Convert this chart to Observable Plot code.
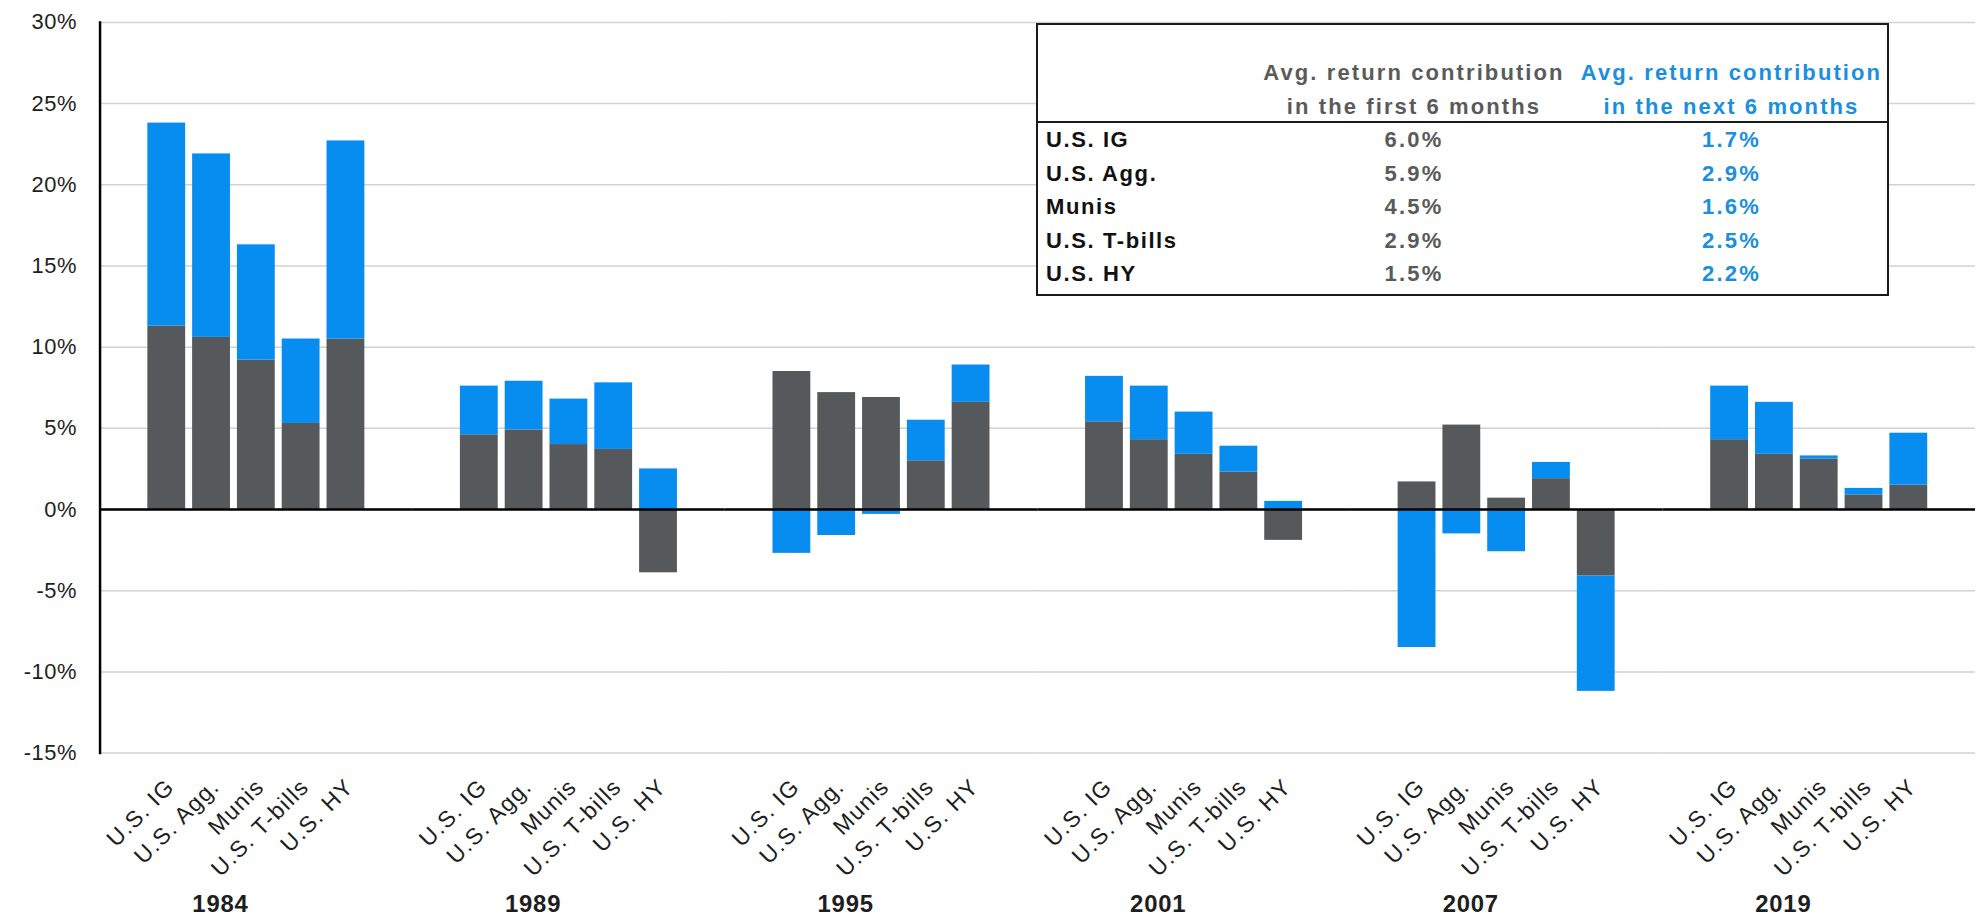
<!DOCTYPE html>
<html>
<head>
<meta charset="utf-8">
<script src="https://cdn.jsdelivr.net/npm/d3@7"></script>
<script src="https://cdn.jsdelivr.net/npm/@observablehq/plot@0.6"></script>
<style>
  html, body { margin: 0; padding: 0; background: #fff; overflow: hidden; }
  #wrap { position: relative; width: 1977px; height: 923px; overflow: hidden; font-family: "Liberation Sans", Arial, sans-serif; }
  #chart { position: absolute; left: 0; top: 0; }
  #inset { position: absolute; left: 1036px; top: 23px; width: 849px; height: 269px; border: 2.5px solid #1a1a1a; background: #fff; }
  #inset table { border-collapse: collapse; width: 100%; table-layout: fixed; }
  #inset th { font-weight: bold; font-size: 22px; line-height: 33.5px; padding: 0; vertical-align: bottom; letter-spacing: 2.1px; }
  #inset th div { position: relative; top: 3px; }
  #inset thead tr { height: 97px; }
  #inset thead th { border-bottom: 2px solid #1a1a1a; padding-bottom: 1px; }
  #inset td { font-size: 22px; font-weight: bold; line-height: 33.6px; height: 33.6px; padding: 0; letter-spacing: 1.6px; }
  #inset td.lab { color: #111; padding-left: 8px; }
  .c1 { color: #5a5a5a; text-align: center; }
  .c2 { color: #1a8fe0; text-align: center; }
  #inset td.c1, #inset td.c2 { letter-spacing: 2.2px; }
</style>
</head>
<body>
<div id="wrap">
  <div id="chart"></div>
  <div id="inset"></div>
</div>
<script>
// ---- data ----
const years = ["1984", "1989", "1995", "2001", "2007", "2019"];
const categories = ["U.S. IG", "U.S. Agg.", "Munis", "U.S. T-bills", "U.S. HY"];

// first 6 months return contribution (%), per year, in category order
const first6_1984 = [11.3, 10.6, 9.2, 5.3, 10.5];
const first6_1989 = [4.6, 4.9, 4.0, 3.7, -3.9];
const first6_1995 = [8.5, 7.2, 6.9, 3.0, 6.6];
const first6_2001 = [5.4, 4.3, 3.4, 2.3, -1.9];
const first6_2007 = [1.7, 5.2, 0.7, 1.9, -4.1];
const first6_2019 = [4.3, 3.4, 3.1, 0.9, 1.5];

// next 6 months return contribution (%), per year, in category order
const next6_1984 = [12.5, 11.3, 7.1, 5.2, 12.2];
const next6_1989 = [3.0, 3.0, 2.8, 4.1, 2.5];
const next6_1995 = [-2.7, -1.6, -0.3, 2.5, 2.3];
const next6_2001 = [2.8, 3.3, 2.6, 1.6, 0.5];
const next6_2007 = [-8.5, -1.5, -2.6, 1.0, -7.1];
const next6_2019 = [3.3, 3.2, 0.2, 0.4, 3.2];

const yTicks = [-15, -10, -5, 0, 5, 10, 15, 20, 25, 30];

// inset table
const tableHeaderFirst = ["Avg. return contribution", "in the first 6 months"];
const tableHeaderNext = ["Avg. return contribution", "in the next 6 months"];
const tableFirst = ["6.0%", "5.9%", "4.5%", "2.9%", "1.5%"];
const tableNext = ["1.7%", "2.9%", "1.6%", "2.5%", "2.2%"];

const seriesNames = ["First 6 months", "Next 6 months"];
const seriesColors = ["#55595b", "#078cf0"];

// ---- build rows ----
const first6 = [first6_1984, first6_1989, first6_1995, first6_2001, first6_2007, first6_2019];
const next6 = [next6_1984, next6_1989, next6_1995, next6_2001, next6_2007, next6_2019];
const rows = [];
years.forEach((yr, i) => categories.forEach((c, j) => rows.push({year: yr, cat: c, series: seriesNames[0], value: first6[i][j]})));
years.forEach((yr, i) => categories.forEach((c, j) => rows.push({year: yr, cat: c, series: seriesNames[1], value: next6[i][j]})));

const chart = Plot.plot({
  width: 1986,
  height: 923,
  marginLeft: 98,
  marginRight: 0,
  marginTop: 22,
  marginBottom: 167,
  style: {fontFamily: "'Liberation Sans', Arial, sans-serif", background: "transparent", color: "#1e1e1e"},
  fx: {domain: years, padding: 0, label: null},
  x: {domain: categories, paddingInner: 0.146, paddingOuter: 1.06, label: null},
  y: {domain: [-15, 30], label: null},
  color: {domain: seriesNames, range: seriesColors},
  marks: [
    Plot.gridY({ticks: yTicks, stroke: "#d2d2d2", strokeOpacity: 1, strokeWidth: 1.5}),
    Plot.barY(rows, {fx: "year", x: "cat", y: "value", fill: "series"}),
    Plot.ruleY([0], {stroke: "#000", strokeWidth: 2.5}),
    Plot.frame({anchor: "left", facet: "super", stroke: "#000", strokeWidth: 2.5}),
    Plot.axisY({ticks: yTicks, tickSize: 0, tickPadding: 23, tickFormat: d => d + "%", fontSize: 22, label: null}),
    Plot.axisX({tickRotate: -45, tickSize: 0, tickPadding: 30, dx: 4, fontSize: 23, label: null}),
    Plot.axisFx({anchor: "bottom", tickSize: 0, tickPadding: 143, dx: -36, fontSize: 24, fontWeight: "bold", label: null})
  ]
});
chart.querySelectorAll('g[aria-label="x-axis tick label"] text').forEach(t => t.setAttribute("letter-spacing", "1.4"));
chart.querySelectorAll('g[aria-label="y-axis tick label"] text').forEach(t => t.setAttribute("letter-spacing", "0.6"));
chart.querySelectorAll('g[aria-label="fx-axis tick label"] text').forEach(t => t.setAttribute("letter-spacing", "0.8"));
document.getElementById("chart").appendChild(chart);

// ---- inset table ----
let html = "<table><colgroup><col style='width:214px'><col style='width:324px'><col style='width:311px'></colgroup>";
html += "<thead><tr><th></th><th class='c1'><div>" + tableHeaderFirst.join("<br>") + "</div></th><th class='c2'><div>" + tableHeaderNext.join("<br>") + "</div></th></tr></thead><tbody>";
categories.forEach((c, i) => {
  html += "<tr><td class='lab'>" + c + "</td><td class='c1'>" + tableFirst[i] + "</td><td class='c2'>" + tableNext[i] + "</td></tr>";
});
html += "</tbody></table>";
document.getElementById("inset").innerHTML = html;
</script>
</body>
</html>
